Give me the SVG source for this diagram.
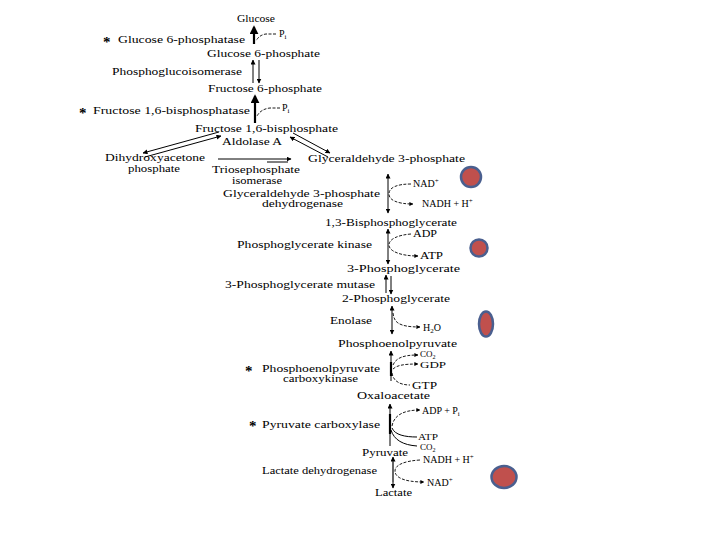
<svg xmlns="http://www.w3.org/2000/svg" width="720" height="540" viewBox="0 0 720 540">
<defs>
<marker id="ah" viewBox="0 0 10 10" refX="9" refY="5" markerWidth="5" markerHeight="5" orient="auto-start-reverse" markerUnits="userSpaceOnUse">
<path d="M0,0 L10,5 L0,10 z" fill="#000"/>
</marker>
<marker id="ahs" viewBox="0 0 10 10" refX="9" refY="5" markerWidth="4" markerHeight="4" orient="auto-start-reverse" markerUnits="userSpaceOnUse">
<path d="M0,0 L10,5 L0,10 z" fill="#000"/>
</marker>
<marker id="ahb" viewBox="0 0 10 10" refX="8" refY="5" markerWidth="9" markerHeight="9" orient="auto-start-reverse" markerUnits="userSpaceOnUse">
<path d="M0,0 L10,5 L0,10 z" fill="#000"/>
</marker>
</defs>
<style>
text{font-family:"Liberation Serif","Times New Roman",serif;font-size:10px;fill:#000}
.sm{font-size:9px}
.star{font-size:15px;font-weight:bold}
.ln{stroke:#000;stroke-width:1;fill:none}
.thk{stroke:#000;stroke-width:2.2;fill:none}
.cv{stroke:#000;stroke-width:0.9;fill:none;stroke-dasharray:3 1.5}
.dot{fill:#c0504d;stroke:#4a5f8f;stroke-width:2.5}
</style>
<rect width="720" height="540" fill="#fff"/>

<g id="connectors">
<!-- Glucose 6-phosphatase -->
<line class="thk" x1="254" y1="44" x2="254" y2="27" marker-end="url(#ahb)"/>
<path class="cv" d="M276,34 L266,34 Q259,35 256,41"/>
<!-- Phosphoglucoisomerase -->
<line class="ln" x1="253" y1="83" x2="253" y2="60" marker-end="url(#ah)"/>
<line class="ln" x1="259" y1="60" x2="259" y2="83" marker-end="url(#ah)"/>
<!-- Fructose 1,6-bisphosphatase -->
<line class="thk" x1="255" y1="123" x2="255" y2="96" marker-end="url(#ahb)"/>
<path class="cv" d="M280,108 L270,108 Q261,109 257,116"/>
<!-- Aldolase -->
<line class="ln" x1="219" y1="132" x2="143" y2="153" marker-end="url(#ah)"/>
<line class="ln" x1="145" y1="157" x2="221" y2="136" marker-end="url(#ah)"/>
<line class="ln" x1="293" y1="133" x2="330" y2="153" marker-end="url(#ah)"/>
<line class="ln" x1="328" y1="157" x2="290" y2="137" marker-end="url(#ah)"/>
<!-- Triosephosphate isomerase -->
<line class="ln" x1="218" y1="159" x2="291" y2="159" marker-end="url(#ah)"/>
<line class="ln" x1="267" y1="162" x2="288" y2="162"/>
<!-- GAPDH -->
<line class="ln" x1="388" y1="174" x2="388" y2="213" marker-start="url(#ah)" marker-end="url(#ah)"/>
<path class="cv" d="M411,184 C398,184 389,187 389,194 C389,200 397,204 413,204" marker-end="url(#ahs)"/>
<!-- PGK -->
<line class="ln" x1="388" y1="229" x2="388" y2="264" marker-start="url(#ah)" marker-end="url(#ah)"/>
<path class="cv" d="M411,234 C398,235 389,239 389,245 C389,251 400,256 418,256" marker-end="url(#ahs)"/>
<!-- Mutase -->
<line class="ln" x1="386" y1="293" x2="386" y2="275" marker-end="url(#ah)"/>
<line class="ln" x1="391" y1="276" x2="391" y2="294" marker-end="url(#ah)"/>
<!-- Enolase -->
<line class="ln" x1="392" y1="306" x2="392" y2="334" marker-start="url(#ah)" marker-end="url(#ah)"/>
<path class="cv" d="M393,313 C394,322 398,327 420,327" marker-end="url(#ahs)"/>
<!-- PEPCK -->
<line class="ln" x1="391" y1="381" x2="391" y2="351" marker-end="url(#ah)"/>
<line class="thk" x1="391" y1="362" x2="391" y2="376"/>
<path class="cv" d="M393,365 C396,358 403,355 418,355" marker-end="url(#ahs)"/>
<path class="cv" d="M393,369 C397,365 405,364 418,364" marker-end="url(#ahs)"/>
<path class="cv" d="M392,373 C393,381 400,385 410,385"/>
<!-- Pyruvate carboxylase -->
<line class="ln" x1="390" y1="446" x2="390" y2="404" marker-end="url(#ah)"/>
<line class="thk" x1="390" y1="414" x2="390" y2="434"/>
<path class="cv" d="M392,426 C394,415 404,410 420,410" marker-end="url(#ahs)"/>
<path class="ln" d="M417,437 C405,437 395,435 392,428"/>
<path class="ln" d="M417,446 C403,445 394,440 391,430"/>
<!-- LDH -->
<line class="ln" x1="393" y1="457" x2="393" y2="488" marker-start="url(#ah)" marker-end="url(#ah)"/>
<line x1="393" y1="462" x2="393" y2="482" stroke="#666" stroke-width="2"/>
<path class="cv" d="M420,460 C404,461 395,465 395,471 C395,477 403,482 424,482" marker-end="url(#ahs)"/>
</g>

<g id="n-glucose"><text x="237" y="22" textLength="38" lengthAdjust="spacingAndGlyphs">Glucose</text></g>
<g id="n-pi1"><text x="279" y="37">P<tspan font-size="7" dy="2">i</tspan></text></g>
<g id="n-g6pase"><text class="star" x="103" y="47">*</text><text x="118" y="43" textLength="127" lengthAdjust="spacingAndGlyphs">Glucose 6-phosphatase</text></g>
<g id="n-g6p"><text x="207" y="57" textLength="113" lengthAdjust="spacingAndGlyphs">Glucose 6-phosphate</text></g>
<g id="n-pgi"><text x="112" y="75" textLength="130" lengthAdjust="spacingAndGlyphs">Phosphoglucoisomerase</text></g>
<g id="n-f6p"><text x="208" y="92" textLength="114" lengthAdjust="spacingAndGlyphs">Fructose 6-phosphate</text></g>
<g id="n-pi2"><text x="282" y="111">P<tspan font-size="7" dy="2">i</tspan></text></g>
<g id="n-fbpase"><text class="star" x="79" y="118">*</text><text x="93" y="114" textLength="157" lengthAdjust="spacingAndGlyphs">Fructose 1,6-bisphosphatase</text></g>
<g id="n-f16bp"><text x="195" y="132" textLength="143" lengthAdjust="spacingAndGlyphs">Fructose 1,6-bisphosphate</text></g>
<g id="n-aldolase"><text x="222" y="145" textLength="60" lengthAdjust="spacingAndGlyphs">Aldolase A</text></g>
<g id="n-dhap"><text x="105" y="161" textLength="100" lengthAdjust="spacingAndGlyphs">Dihydroxyacetone</text><text x="128" y="172" textLength="52" lengthAdjust="spacingAndGlyphs">phosphate</text></g>
<g id="n-tpi"><text x="212" y="173" textLength="88" lengthAdjust="spacingAndGlyphs">Triosephosphate</text><text x="232" y="184" textLength="50" lengthAdjust="spacingAndGlyphs">isomerase</text></g>
<g id="n-gap"><text x="308" y="162" textLength="157" lengthAdjust="spacingAndGlyphs">Glyceraldehyde 3-phosphate</text></g>
<g id="n-nad1"><text x="413" y="187">NAD<tspan font-size="7" dy="-4">+</tspan></text></g>
<g id="n-gapdh"><text x="223" y="197" textLength="157" lengthAdjust="spacingAndGlyphs">Glyceraldehyde 3-phosphate</text><text x="262" y="207" textLength="81" lengthAdjust="spacingAndGlyphs">dehydrogenase</text></g>
<g id="n-nadh1"><text x="422" y="207">NADH + H<tspan font-size="7" dy="-4">+</tspan></text></g>
<g id="n-13bpg"><text x="325" y="226" textLength="132" lengthAdjust="spacingAndGlyphs">1,3-Bisphosphoglycerate</text></g>
<g id="n-adp1"><text x="413" y="237" textLength="24" lengthAdjust="spacingAndGlyphs">ADP</text></g>
<g id="n-pgk"><text x="237" y="248" textLength="135" lengthAdjust="spacingAndGlyphs">Phosphoglycerate kinase</text></g>
<g id="n-atp1"><text x="420" y="259" textLength="23" lengthAdjust="spacingAndGlyphs">ATP</text></g>
<g id="n-3pg"><text x="347" y="272" textLength="113" lengthAdjust="spacingAndGlyphs">3-Phosphoglycerate</text></g>
<g id="n-mutase"><text x="225" y="288" textLength="150" lengthAdjust="spacingAndGlyphs">3-Phosphoglycerate mutase</text></g>
<g id="n-2pg"><text x="342" y="302" textLength="108" lengthAdjust="spacingAndGlyphs">2-Phosphoglycerate</text></g>
<g id="n-enolase"><text x="330" y="324" textLength="42" lengthAdjust="spacingAndGlyphs">Enolase</text></g>
<g id="n-h2o"><text x="423" y="331">H<tspan font-size="7" dy="2">2</tspan><tspan dy="-2">O</tspan></text></g>
<g id="n-pep"><text x="338" y="347" textLength="119" lengthAdjust="spacingAndGlyphs">Phosphoenolpyruvate</text></g>
<g id="n-co2a"><text class="sm" x="420" y="357">CO<tspan font-size="6" dy="1.5">2</tspan></text></g>
<g id="n-gdp"><text class="sm" x="420" y="368" textLength="26" lengthAdjust="spacingAndGlyphs">GDP</text></g>
<g id="n-pepck"><text class="star" x="245" y="376">*</text><text x="262" y="372" textLength="118" lengthAdjust="spacingAndGlyphs">Phosphoenolpyruvate</text><text x="283" y="382" textLength="75" lengthAdjust="spacingAndGlyphs">carboxykinase</text></g>
<g id="n-gtp"><text x="412" y="389" textLength="25" lengthAdjust="spacingAndGlyphs">GTP</text></g>
<g id="n-oaa"><text x="357" y="399" textLength="73" lengthAdjust="spacingAndGlyphs">Oxaloacetate</text></g>
<g id="n-adppi"><text x="422" y="414">ADP + P<tspan font-size="7" dy="2">i</tspan></text></g>
<g id="n-pc"><text class="star" x="249" y="431">*</text><text x="262" y="428" textLength="118" lengthAdjust="spacingAndGlyphs">Pyruvate carboxylase</text></g>
<g id="n-atp2"><text class="sm" x="418" y="440" textLength="20" lengthAdjust="spacingAndGlyphs">ATP</text></g>
<g id="n-co2b"><text class="sm" x="420" y="450">CO<tspan font-size="6" dy="1.5">2</tspan></text></g>
<g id="n-pyruvate"><text x="362" y="456" textLength="46" lengthAdjust="spacingAndGlyphs">Pyruvate</text></g>
<g id="n-nadh2"><text x="423" y="463">NADH + H<tspan font-size="7" dy="-4">+</tspan></text></g>
<g id="n-ldh"><text x="262" y="474" textLength="115" lengthAdjust="spacingAndGlyphs">Lactate dehydrogenase</text></g>
<g id="n-nad2"><text x="427" y="486">NAD<tspan font-size="7" dy="-4">+</tspan></text></g>
<g id="n-lactate"><text x="375" y="496" textLength="37" lengthAdjust="spacingAndGlyphs">Lactate</text></g>

<g id="markers-dots">
<circle class="dot" cx="471" cy="177" r="10"/>
<circle class="dot" cx="479" cy="248" r="8.5"/>
<ellipse class="dot" cx="486" cy="324" rx="7" ry="12.5"/>
<ellipse class="dot" cx="504" cy="477" rx="12.5" ry="11"/>
</g>
</svg>
